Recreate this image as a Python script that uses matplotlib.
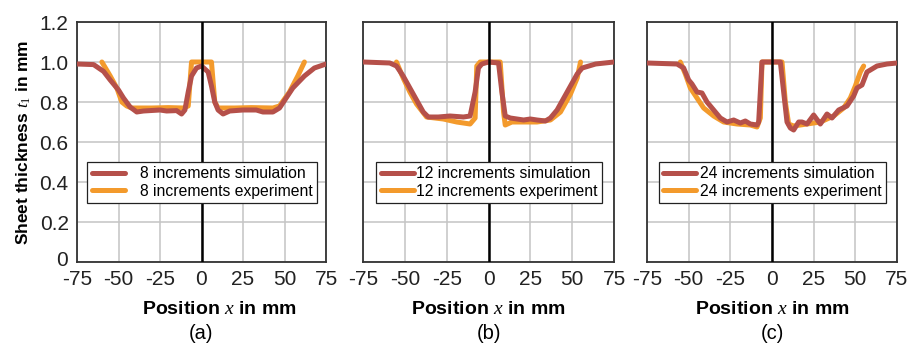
import numpy as np
import matplotlib
matplotlib.use("Agg")
import matplotlib.pyplot as plt
import matplotlib.transforms as mtransforms

plt.rcParams['font.family'] = ['Liberation Sans', 'DejaVu Sans']
plt.rcParams['mathtext.fontset'] = 'custom'
plt.rcParams['mathtext.it'] = 'Liberation Serif:italic'
plt.rcParams['mathtext.rm'] = 'Liberation Serif'

# (a) 8 Inkremente
x_sim_a = [-75, -65, -59, -55, -50, -47, -43, -39, -35, -31, -25, -21, -15, -12, -10, -8, -6, -3, 0,
           4, 6, 8, 10, 13, 17, 25, 33, 37, 43, 47, 51, 55, 62, 68, 75]
y_sim_a = [0.99, 0.987, 0.953, 0.91, 0.86, 0.82, 0.775, 0.75, 0.755, 0.757, 0.76, 0.755, 0.757, 0.74, 0.76,
           0.85, 0.93, 0.97, 0.98, 0.95, 0.88, 0.80, 0.76, 0.74, 0.755, 0.76, 0.76, 0.75, 0.75, 0.77, 0.82,
           0.87, 0.93, 0.97, 0.99]
x_exp_a = [-60, -55, -51, -48, -45, -42, -30, -20, -11, -8, -6, 0, 6, 8, 10, 20, 30, 43, 47, 53, 58, 62]
y_exp_a = [1.0, 0.93, 0.87, 0.80, 0.78, 0.77, 0.77, 0.772, 0.77, 0.78, 1.0, 1.0, 1.0, 0.80, 0.77, 0.77,
           0.772, 0.77, 0.78, 0.85, 0.93, 1.0]

# (b) 12 Inkremente
x_sim_b = [-75, -59, -55, -51, -47, -43, -39, -36, -30, -23, -15, -11, -8, -6, -4, 0, 6, 8, 10, 13, 17, 21,
           25, 29, 34, 37, 41, 45, 49, 53, 56, 64, 75]
y_sim_b = [1.0, 0.995, 0.98, 0.93, 0.87, 0.81, 0.75, 0.725, 0.725, 0.73, 0.725, 0.73, 0.85, 0.97, 0.99, 1.0,
           0.995, 0.85, 0.73, 0.72, 0.715, 0.71, 0.715, 0.71, 0.705, 0.72, 0.76, 0.82, 0.88, 0.94, 0.97,
           0.99, 1.0]
x_exp_b = [-55, -51, -47, -43, -37, -27, -19, -11, -8, -7, -5, 0, 7, 9, 10, 14, 21, 29, 37, 43, 49, 53, 55]
y_exp_b = [1.0, 0.92, 0.85, 0.79, 0.725, 0.715, 0.70, 0.69, 0.72, 0.98, 1.0, 1.0, 1.0, 0.75, 0.685, 0.70,
           0.70, 0.70, 0.71, 0.75, 0.84, 0.92, 1.0]

# (c) 24 Inkremente
x_sim_c = [-75, -57, -53, -50, -48, -45, -42, -39, -35, -31, -27, -23, -19, -16, -13, -9, -8, -6, 0, 5, 7,
           9, 11, 13, 16, 18, 21, 25, 29, 33, 36, 40, 45, 49, 51, 54, 57, 63, 69, 75]
y_sim_c = [0.995, 0.99, 0.97, 0.91, 0.89, 0.85, 0.845, 0.80, 0.76, 0.72, 0.70, 0.71, 0.695, 0.705, 0.69,
           0.685, 0.70, 1.0, 1.0, 1.0, 0.85, 0.70, 0.67, 0.66, 0.70, 0.70, 0.69, 0.735, 0.69, 0.74, 0.72, 0.76,
           0.78, 0.83, 0.87, 0.885, 0.95, 0.98, 0.99, 0.995]
x_exp_c = [-55, -52, -49, -45, -41, -35, -29, -21, -13, -9, -7, -6, 0, 6, 8, 10, 13, 21, 29, 37, 43, 47,
           50, 53, 55]
y_exp_c = [1.0, 0.94, 0.87, 0.82, 0.77, 0.73, 0.70, 0.69, 0.685, 0.675, 0.72, 1.0, 1.0, 1.0, 0.80, 0.69,
           0.68, 0.69, 0.70, 0.73, 0.77, 0.82, 0.88, 0.95, 0.98]

panels = [
    ("(a)", "8", x_sim_a, y_sim_a, x_exp_a, y_exp_a),
    ("(b)", "12", x_sim_b, y_sim_b, x_exp_b, y_exp_b),
    ("(c)", "24", x_sim_c, y_sim_c, x_exp_c, y_exp_c),
]
x_ticks = [-75, -50, -25, 0, 25, 50, 75]
y_ticks = [0, 0.2, 0.4, 0.6, 0.8, 1.0, 1.2]
y_ticklabels = ["0", "0.2", "0.4", "0.6", "0.8", "1.0", "1.2"]

sim_color = '#b5504a'
exp_color = '#f39a2c'

fig = plt.figure(figsize=(9.09, 3.47), dpi=100)
lefts = [77 / 909, 363 / 909, 647 / 909]
widths = [249 / 909, 251 / 909, 250 / 909]
textpads = [0.95, 0.12, 0.25]
xlabel_pos = [0.572, 0.5, 0.5]

for i, (tag, n, xs, ys, xe, ye) in enumerate(panels):
    ax = fig.add_axes([lefts[i], 85 / 347, widths[i], 240 / 347])
    ax.set_xlim(-75, 75)
    ax.set_ylim(0, 1.2)
    ax.set_xticks(x_ticks)
    ax.set_xticklabels([str(t) for t in x_ticks])
    ax.set_yticks(y_ticks)
    if i == 0:
        ax.set_yticklabels(y_ticklabels)
        ax.set_ylabel("Sheet thickness $t_\\mathrm{1}$ in mm", fontsize=12.5, fontweight='bold', labelpad=5)
    else:
        ax.set_yticklabels([])
    ax.tick_params(axis='x', length=0, labelsize=15, pad=5.5, colors='#222222')
    ax.tick_params(axis='y', length=0, labelsize=15, pad=6, colors='#222222')
    if i == 0:
        # "0" sitzt im Original etwas hoeher/links der Ecke
        lab0 = ax.get_yticklabels()[0]
        lab0.set_transform(lab0.get_transform() +
                           mtransforms.ScaledTranslation(-1 / 100, 4 / 100, fig.dpi_scale_trans))
    ax.grid(True, color='#c4c4c4', linewidth=1.1)
    ax.set_axisbelow(True)
    for s in ax.spines.values():
        s.set_color('#333333')
        s.set_linewidth(1.3)
    le, = ax.plot(xe, ye, color=exp_color, linewidth=3.6, solid_capstyle='round', zorder=2)
    ls, = ax.plot(xs, ys, color=sim_color, linewidth=3.6, solid_capstyle='round', zorder=3)
    ax.axvline(0, color='black', linewidth=1.8, zorder=4)
    leg = ax.legend([ls, le], [n + " increments simulation", n + " increments experiment"],
                    loc='center', bbox_to_anchor=(0.502, 0.331), fontsize=11.3, frameon=True,
                    fancybox=False, edgecolor='#222222', framealpha=1, handlelength=2.1,
                    handletextpad=textpads[i], labelspacing=0.15, borderpad=0.3, borderaxespad=0)
    leg.get_frame().set_linewidth(0.9)
    leg.set_zorder(5)
    ax.text(xlabel_pos[i], -0.2, "Position $x$ in mm", transform=ax.transAxes, ha='center', va='center',
            fontsize=14, fontweight='bold')
    ax.text(0.5, -0.296, tag, transform=ax.transAxes, ha='center', va='center', fontsize=14.5)

fig.savefig("out.png", dpi=100, facecolor='white')
